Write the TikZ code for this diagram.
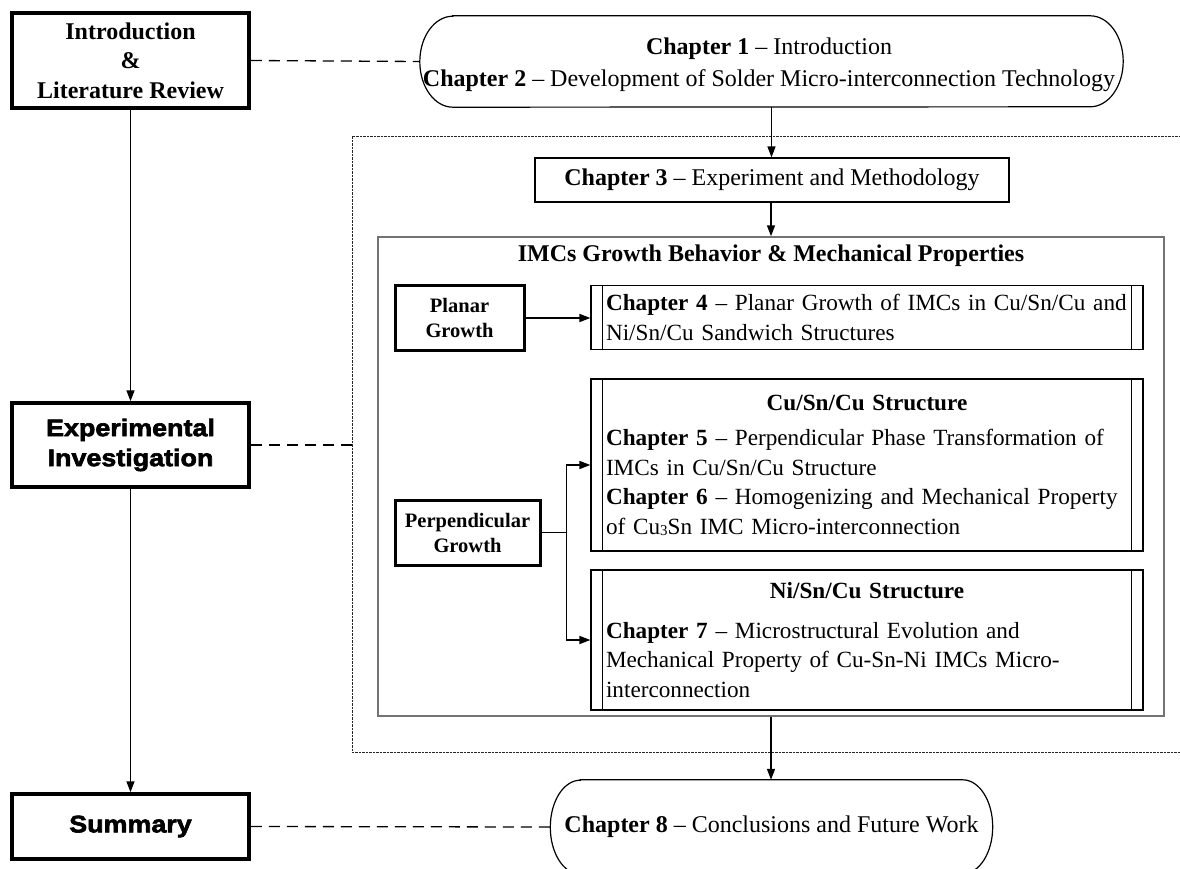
\documentclass[tikz,border=0pt]{standalone}
\usepackage{fontspec}
\setmainfont{Liberation Serif}
\newfontfamily\heavyfont[FakeStretch=1.12, BoldFeatures={FakeBold=2.5}]{Liberation Sans}
\usetikzlibrary{arrows.meta}
\begin{document}
\begin{tikzpicture}[x=1pt,y=-1pt,
  txt/.style={font=\fontsize{24}{30}\selectfont},
  thickbox/.style={draw, line width=3.5pt, inner sep=0pt, align=center, font=\fontsize{24}{29.5}\selectfont\bfseries},
  heavybox/.style={draw, line width=3.5pt, inner sep=0pt, align=center, font=\heavyfont\bfseries\fontsize{24}{30}\selectfont},
  growbox/.style={draw, line width=3pt, inner sep=0pt, align=center, font=\fontsize{20.5}{25}\selectfont\bfseries},
  ovaltext/.style={inner sep=0pt, align=center, font=\fontsize{24}{31.5}\selectfont},
  ovalline/.style={line width=1.2pt},
  subbox/.style={draw, line width=1.2pt, inner xsep=15pt, inner ysep=0pt, text width=522pt, align=left, font=\fontsize{23.2}{29.5}\selectfont},
  conn/.style={line width=1.5pt, -{Triangle[length=11pt,width=8pt]}},
  dashconn/.style={line width=1.3pt, dash pattern=on 11pt off 7pt},
  framedash/.style={line width=0.9pt, black!85, dash pattern=on 2.5pt off 1pt},
]
\useasboundingbox (0,0) rectangle (1180,869);
\clip (0,0) rectangle (1180,869);

% dashed frame
\node[minimum width=850pt, minimum height=616pt, inner sep=0pt, anchor=north west] (frame) at (352,136) {};
\draw[framedash] (frame.north east) -- (frame.north west) -- (frame.south west) -- (frame.south east);

% left column
\node[thickbox, minimum width=237pt, minimum height=95pt] (intro) at (130.5,60.5) {Introduction\\\&\\Literature Review};
\node[heavybox, minimum width=237pt, minimum height=84pt] (exp) at (130.5,445) {Experimental\\Investigation};
\node[heavybox, minimum width=237pt, minimum height=65pt] (sum) at (130.5,826.5) {Summary};

% top oval
\node[minimum width=703pt, minimum height=91pt, inner sep=0pt] (ch12) at (771.5,61.5) {};
\draw[ovalline] ([xshift=33pt]ch12.north west) -- ([xshift=-33pt]ch12.north east)
  arc[start angle=90,end angle=-90,x radius=33pt,y radius=45.5pt]
  -- ([xshift=33pt]ch12.south west)
  arc[start angle=270,end angle=90,x radius=33pt,y radius=45.5pt] -- cycle;
\node[ovaltext] (ch12text) at (769,65)
  {\textbf{Chapter 1} \textendash{} Introduction\\\textbf{Chapter 2} \textendash{} Development of Solder Micro-interconnection Technology};

% chapter 3
\node[draw, line width=1.2pt, minimum width=474pt, minimum height=44pt, txt] (ch3) at (772,180)
  {\textbf{Chapter 3} \textendash{} Experiment and Methodology};

% IMC box
\node[draw=black!55, line width=1.5pt, minimum width=786pt, minimum height=479pt, inner sep=0pt] (imc) at (771,476.5) {};
\node[txt, font=\fontsize{24}{30}\selectfont\bfseries] (imctitle) at (771,256) {IMCs Growth Behavior \& Mechanical Properties};

% growth boxes
\node[growbox, minimum width=129pt, minimum height=65pt] (planar) at (459.5,318) {Planar\\Growth};
\node[growbox, minimum width=145pt, minimum height=65pt] (perp) at (467.5,532.5) {Perpendicular\\Growth};

% sub boxes
\node[subbox, minimum height=64pt] (ch4) at (867,317.5)
  {\mbox{\textbf{Chapter 4} \textendash{} Planar Growth of IMCs in Cu/Sn/Cu and}\\\mbox{Ni/Sn/Cu Sandwich Structures}};
\node[subbox, minimum height=172pt] (cu) at (867,465)
  {{\centering\textbf{Cu/Sn/Cu Structure}\par}\vspace{6pt}\mbox{\textbf{Chapter 5} \textendash{} Perpendicular Phase Transformation of}\\\mbox{IMCs in Cu/Sn/Cu Structure}\\\mbox{\textbf{Chapter 6} \textendash{} Homogenizing and Mechanical Property}\\\mbox{of Cu\raisebox{-1pt}{\fontsize{15}{15}\selectfont 3}Sn IMC Micro-interconnection}};
\node[subbox, minimum height=140pt] (ni) at (867,640)
  {{\centering\textbf{Ni/Sn/Cu Structure}\par}\vspace{10pt}\mbox{\textbf{Chapter 7} \textendash{} Microstructural Evolution and}\\\mbox{Mechanical Property of Cu-Sn-Ni IMCs Micro-}\\\mbox{interconnection}};
\foreach \b in {ch4,cu,ni}{
  \draw[line width=1.2pt] ([xshift=12pt]\b.north west) -- ([xshift=12pt]\b.south west);
  \draw[line width=1.2pt] ([xshift=-12pt]\b.north east) -- ([xshift=-12pt]\b.south east);
}

% bottom oval
\node[minimum width=442pt, minimum height=94pt, inner sep=0pt] (ch8) at (771.5,827) {};
\draw[ovalline] ([xshift=30pt]ch8.north west) -- ([xshift=-30pt]ch8.north east)
  arc[start angle=90,end angle=-90,x radius=30pt,y radius=47pt]
  -- ([xshift=30pt]ch8.south west)
  arc[start angle=270,end angle=90,x radius=30pt,y radius=47pt] -- cycle;
\node[ovaltext] (ch8text) at (771.5,827) {\textbf{Chapter 8} \textendash{} Conclusions and Future Work};

% connectors
\draw[conn] (intro.south) -- (exp.north);
\draw[conn] (exp.south) -- (sum.north);
\draw[conn] (ch12.south) -- (ch12.south |- ch3.north);
\draw[conn] (ch3.south -| imc.north) -- (imc.north);
\draw[conn] (imc.south) -- (imc.south |- ch8.north);
\draw[conn] (planar.east) -- (planar.east -| ch4.west);
\draw[conn] (perp.east) -- ++(25,0) |- (cu.west);
\draw[conn] (perp.east) -- ++(25,0) |- (ni.west);

% dashed links
\draw[dashconn] (intro.east) -- (ch12.west);
\draw[dashconn] (exp.east) -- (exp.east -| frame.west);
\draw[dashconn] (sum.east) -- (ch8.west);
\end{tikzpicture}
\end{document}
